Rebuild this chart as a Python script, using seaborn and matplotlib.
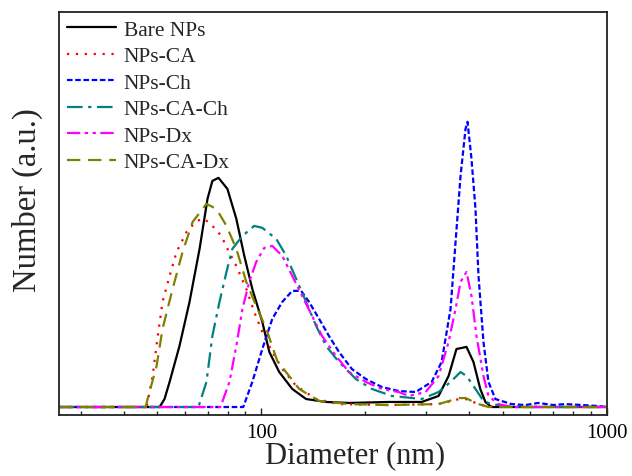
'''Number-weighted size distributions of the bare and coated NPs (log diameter axis)'''

import pandas as pd
import seaborn as sns
import matplotlib.pyplot as plt
from matplotlib.ticker import LogLocator, NullFormatter

# diameters (nm) and number values (a.u.)
bare_d = [26, 50.8, 52.5, 54.3, 58.0, 62.0, 66.3, 69.9, 72.2, 75.2, 79.8, 84.7, 89.3,
          94.2, 100.7, 105.5, 112.7, 122.9, 134.8, 153.9, 179.3, 233.8, 291.1, 325.8,
          348.2, 367.0, 392.4, 411.0, 430.0, 445.0, 463.0, 1000]
bare_n = [0, 0, 0.57, 1.79, 4.36, 7.5, 11.29, 14.86, 16.14, 16.36, 15.57, 13.43, 10.79,
          8.43, 6.07, 3.93, 2.5, 1.29, 0.57, 0.36, 0.29, 0.36, 0.36, 0.79,
          2.21, 4.14, 4.29, 3.21, 1.29, 0.36, 0, 0]

ca_d = [26, 46.6, 48.5, 50.2, 51.8, 54.3, 56.9, 60.8, 65.0, 68.5, 72.2, 76.7, 79.8,
        84.7, 90.5, 95.4, 100.7, 107.6, 115.0, 126.2, 144.1, 167.8, 233.8, 325.8,
        374.0, 389.8, 425.0, 454.0, 1000]
ca_n = [0, 0, 2.21, 5.07, 7.5, 9.36, 11.07, 12.5, 13.29, 13.43, 12.93, 12.21, 11.29,
        10.07, 8.43, 6.79, 5.36, 3.93, 2.71, 1.5, 0.57, 0.21, 0.14, 0.21,
        0.57, 0.57, 0.21, 0.03, 0]

ch_d = [26, 88.7, 94.2, 100.7, 107.6, 115.0, 122.9, 130.4, 137.5, 147.0, 157.0, 167.8,
        182.9, 200.7, 223.2, 249.8, 279.7, 311.1, 332.3, 352.8, 364.8, 377.1, 389.8,
        395.0, 405.6, 416.5, 425.0, 439.3, 454.1, 475.6, 528.9, 580.0, 632.8, 700.0,
        756.8, 850.0, 942.2, 1000]
ch_n = [0, 0, 1.79, 4.14, 6.29, 7.5, 8.29, 8.29, 7.5, 6.29, 5.07, 3.93,
        2.71, 2.0, 1.43, 1.14, 1.07, 1.79, 3.21, 7.0, 11.79, 16.5, 19.86,
        20.36, 17.71, 14.14, 9.36, 4.64, 1.79, 0.57, 0.21, 0.14, 0.29, 0.14,
        0.21, 0.14, 0.07, 0]

cach_d = [26, 65.8, 69.4, 72.2, 75.7, 79.3, 82.5, 88.2, 95.4, 100.7, 110.5, 118.1,
          126.2, 134.8, 144.1, 153.9, 167.8, 187.8, 208.9, 238.5, 291.1, 325.8, 352.8,
          377.1, 392.4, 416.5, 439.3, 463.2, 528.9, 1000]
cach_n = [0, 0, 1.79, 5.07, 7.5, 9.64, 11.29, 12.21, 12.93, 12.79, 12.0, 10.79,
          9.14, 7.5, 5.79, 4.36, 3.21, 2.0, 1.29, 0.79, 0.57, 1.07, 1.79,
          2.5, 2.21, 1.29, 0.43, 0.21, 0, 0]

dx_d = [26, 76.2, 80.9, 84.7, 88.2, 92.3, 96.7, 102.0, 107.6, 115.0, 122.9, 131.3,
        140.3, 149.9, 164.5, 179.3, 200.7, 223.2, 249.8, 267.0, 298.9, 325.8, 348.2,
        364.8, 377.1, 392.4, 405.6, 419.3, 439.3, 454.1, 485.2, 528.9, 1000]
dx_n = [0, 0, 1.79, 4.36, 7.0, 8.93, 10.36, 11.36, 11.5, 10.79, 9.36, 7.93,
        6.5, 5.07, 3.64, 2.5, 1.79, 1.29, 1.07, 0.79, 1.07, 2.21, 4.64,
        7.0, 8.93, 9.64, 7.93, 5.07, 2.21, 0.79, 0.21, 0, 0]

cadx_d = [26, 46.3, 46.9, 49.8, 51.8, 55.4, 59.2, 63.3, 69.4, 74.2, 79.3, 84.7,
          90.5, 96.7, 103.4, 111.2, 128.7, 147.0, 179.3, 233.8, 325.8, 374.0,
          389.8, 425.0, 454.0, 1000]
cadx_n = [0, 0, 0.57, 2.93, 5.57, 8.43, 11.07, 13.21, 14.5, 14.14, 12.93, 11.29,
          8.93, 7.21, 5.57, 3.3, 1.29, 0.43, 0.21, 0.14, 0.21, 0.64,
          0.64, 0.21, 0, 0]

labels = ["Bare NPs", "NPs-CA", "NPs-Ch", "NPs-CA-Ch", "NPs-Dx", "NPs-CA-Dx"]
series = [(bare_d, bare_n), (ca_d, ca_n), (ch_d, ch_n),
          (cach_d, cach_n), (dx_d, dx_n), (cadx_d, cadx_n)]
colors = ["#000000", "#FF0000", "#0000FF", "#008080", "#FF00FF", "#808000"]
styles = ["-", (0, (1, 3)), (0, (2.5, 1.2)), (0, (7, 2.5, 1.5, 2.5)),
          (0, (6, 2, 1.5, 2, 1.5, 2)), (0, (6, 3.5))]

sns.set_style("ticks")
plt.rcParams['font.family'] = ['Liberation Serif', 'DejaVu Serif']

fig = plt.figure(figsize=(6.32, 4.77), dpi=100)
ax = fig.add_axes([0.0934, 0.1279, 0.8670, 0.8449])

for lab, (d, n), col, ls in zip(labels, series, colors, styles):
    df = pd.DataFrame({"Diameter": d, "Number": n})
    sns.lineplot(data=df, x="Diameter", y="Number", ax=ax, color=col,
                 linestyle=ls, linewidth=1.6, label=lab,
                 estimator=None, sort=False)

ax.set_xscale("log")
ax.set_xlim(26, 1000)
ax.set_ylim(-0.57, 28.2)
ax.set_yticks([])
ax.set_xticks([100, 1000])
ax.set_xticklabels(["100", "1000"])
ax.xaxis.set_minor_locator(LogLocator(base=10, subs=range(2, 10)))
ax.xaxis.set_minor_formatter(NullFormatter())
ax.tick_params(axis="x", which="major", direction="in", length=5, width=1,
               labelsize=15, pad=6, colors="#222222", labelcolor="black")
ax.tick_params(axis="x", which="minor", direction="in", length=3, width=1,
               colors="#222222", bottom=True)
for sp in ax.spines.values():
    sp.set_linewidth(1.3)
    sp.set_color("#222222")

ax.set_xlabel("Diameter (nm)", fontsize=22)
ax.set_ylabel("Number (a.u.)", fontsize=23.5)
ax.xaxis.set_label_coords(0.54, -0.062)
ax.yaxis.set_label_coords(-0.03, 0.536)

ax.legend(loc="upper left", frameon=False, fontsize=15.5, handlelength=2.3,
          labelspacing=0.3, handletextpad=0.35, borderaxespad=0.15, borderpad=0.2)

fig.savefig("out.png", dpi=100)
